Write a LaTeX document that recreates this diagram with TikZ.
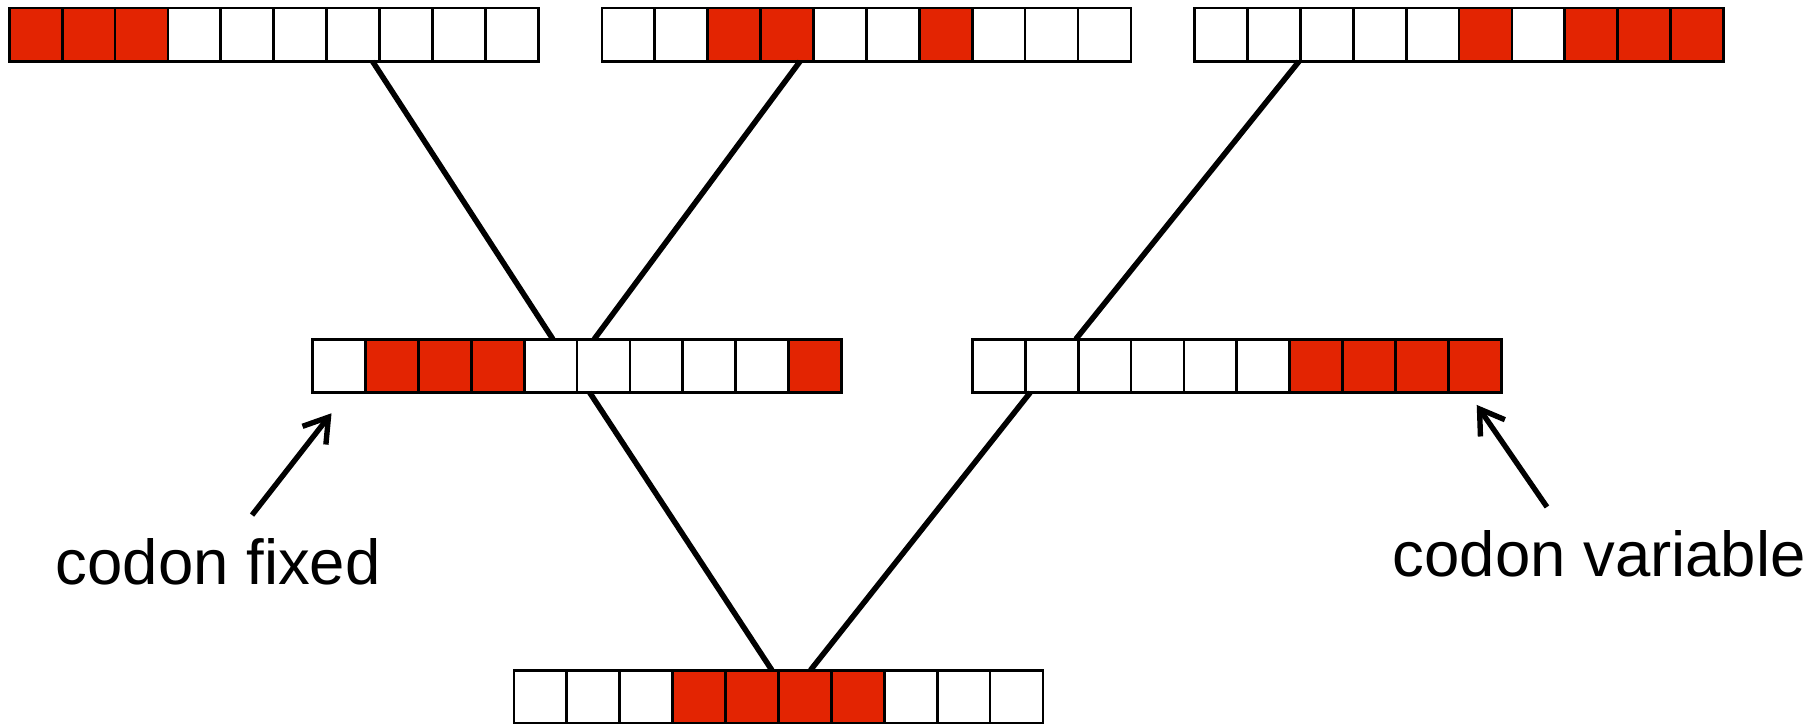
\documentclass[tikz,border=0pt]{standalone}
\usepackage{fontspec}
\setmainfont{Liberation Sans}
\usetikzlibrary{arrows.meta}
\definecolor{codonred}{RGB}{227,36,2}
\tikzset{
  cell/.style={draw, line width=1.7pt, fill=white, minimum width=1.1425cm,
               minimum height=1.15cm, inner sep=0pt, outer sep=0pt},
  hit/.style={cell, fill=codonred},
  link/.style={line width=3.4pt},
  pointer/.style={line width=3.3pt, -{Straight Barb[length=5mm, width=6.4mm]}},
  lab/.style={font=\fontsize{39}{41}\selectfont, inner sep=0pt, anchor=base west}
}
% one row of ten codons: name, left edge, centre height, cell styles
\newcommand{\codonbar}[4]{%
  \foreach \s [count=\i] in {#4} {
    \node[\s] (#1-\i) at ({#2+45.7*\i-22.85}, #3) {};
  }
}
\begin{document}
\begin{tikzpicture}[x=0.025cm, y=-0.025cm]
  \useasboundingbox (0,0) rectangle (1568,625);

  % leaves
  \codonbar{t1}{8}{30}{hit,hit,hit,cell,cell,cell,cell,cell,cell,cell}
  \codonbar{t2}{520}{30}{cell,cell,hit,hit,cell,cell,hit,cell,cell,cell}
  \codonbar{t3}{1032}{30}{cell,cell,cell,cell,cell,hit,cell,hit,hit,hit}
  % inner nodes
  \codonbar{m1}{270}{316}{cell,hit,hit,hit,cell,cell,cell,cell,cell,hit}
  \codonbar{m2}{840}{316}{cell,cell,cell,cell,cell,cell,hit,hit,hit,hit}
  % root
  \codonbar{r}{444}{602}{cell,cell,cell,hit,hit,hit,hit,cell,cell,cell}

  % branches
  \draw[link] ([xshift=0.42cm]t1-7.south) -- ([xshift=0.05cm]m1-5.north);
  \draw[link] ([xshift=0.28cm]t2-4.south) -- ([xshift=-0.2cm]m1-6.north);
  \draw[link] ([xshift=-0.03cm]t3-2.south east) -- ([xshift=-0.05cm]m2-2.north east);
  \draw[link] ([xshift=-0.3cm]m1-6.south) -- ([xshift=0.43cm]r-5.north);
  \draw[link] ([xshift=0.11cm]m2-2.south west) -- ([xshift=0.12cm]r-6.north);

  % labels
  \node[lab] (fixed) at (48,505) {codon fixed};
  \node[lab] (variable) at (1203,498) {codon variable};
  \draw[pointer] ([xshift=0.73cm, yshift=0.5cm]fixed.north)
    -- ([xshift=0.41cm, yshift=-0.45cm]m1-1.south west);
  \draw[pointer] ([xshift=-1.13cm, yshift=0.5cm]variable.north)
    -- ([xshift=0.04cm, yshift=-0.27cm]m2-10.south);
\end{tikzpicture}
\end{document}
